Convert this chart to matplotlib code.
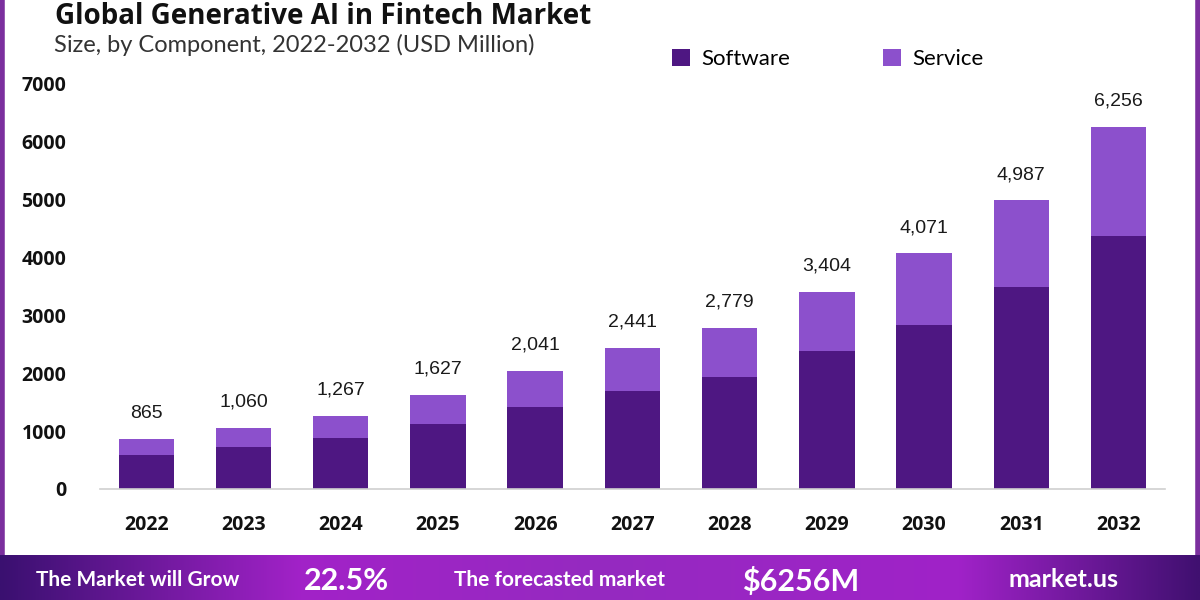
import matplotlib.pyplot as plt
import numpy as np

# Data (USD Million)
years = ["2022", "2023", "2024", "2025", "2026", "2027", "2028", "2029", "2030", "2031", "2032"]
totals = [865, 1060, 1267, 1627, 2041, 2441, 2779, 3404, 4071, 4987, 6256]
software = [590, 725, 880, 1120, 1415, 1690, 1935, 2385, 2840, 3490, 4380]
service = [t - s for t, s in zip(totals, software)]

SOFT_COLOR = "#4e1782"
SERV_COLOR = "#8c50cc"

fig = plt.figure(figsize=(12, 6), dpi=100)
fig.patch.set_facecolor("white")

ax = fig.add_axes([0.083, 0.185, 0.888, 0.675])
x = np.arange(len(years))
ax.bar(x, software, width=0.57, color=SOFT_COLOR, label="Software", zorder=2)
ax.bar(x, service, width=0.57, bottom=software, color=SERV_COLOR, label="Service", zorder=2)

for xi, t in zip(x, totals):
    ax.text(xi, t + 300, f"{t:,}", ha="center", va="bottom",
            fontsize=14, family="Liberation Sans", color="#1a1a1a")

ax.set_xlim(-0.48, len(years) - 0.52)
ax.set_ylim(0, 7000)
ax.set_yticks(range(0, 7001, 1000))
ax.set_xticks(x)
ax.set_xticklabels(years)
for lbl in ax.get_xticklabels():
    lbl.set_fontsize(14)
    lbl.set_fontweight("bold")
    lbl.set_family("Open Sans")
for lbl in ax.get_yticklabels():
    lbl.set_fontsize(14)
    lbl.set_fontweight("bold")
    lbl.set_family("Open Sans")
ax.tick_params(axis="both", length=0, colors="#111111")
ax.tick_params(axis="x", pad=19)
ax.tick_params(axis="y", pad=24)
for side in ["top", "right", "left"]:
    ax.spines[side].set_visible(False)
ax.spines["bottom"].set_color("#d0d0d0")
ax.spines["bottom"].set_linewidth(1.2)

# legend at the top right
handles, labels = ax.get_legend_handles_labels()
fig.legend(handles, labels, loc="center", bbox_to_anchor=(0.69, 0.902), ncol=2,
           frameon=False, handlelength=0.8, handleheight=0.8,
           columnspacing=4.2, handletextpad=0.5, prop={"family": "Lato", "size": 16})

# titles
fig.text(0.046, 0.997, "Global Generative AI in Fintech Market", fontsize=20,
         fontweight="bold", family="Open Sans", color="#111111", va="top")
fig.text(0.045, 0.925, "Size, by Component, 2022-2032 (USD Million)", fontsize=17,
         family="Lato", color="#333333", va="center")

# purple frame at the sides
frame = fig.add_axes([0, 0, 1, 1], zorder=-1)
frame.set_xlim(0, 1)
frame.set_ylim(0, 1)
frame.axis("off")
frame.axvline(0.002, ymin=0.07, ymax=1, color="#7b2f9e", lw=4)
frame.axvline(0.998, ymin=0.07, ymax=1, color="#7b2f9e", lw=4)

# bottom banner with gradient
banner = fig.add_axes([0, 0, 1, 0.075])
grad_stops = np.array([0.0, 0.25, 0.5, 0.8, 1.0])
pos = np.linspace(0, 1, 400)
r = np.interp(pos, grad_stops, [0x3a, 0xa2, 0x95, 0xa0, 0x40])
g = np.interp(pos, grad_stops, [0x10, 0x22, 0x2a, 0x22, 0x10])
b = np.interp(pos, grad_stops, [0x70, 0xc8, 0xc0, 0xc8, 0x70])
img = np.stack([r, g, b], axis=-1)[None, :, :] / 255.0
banner.imshow(img, aspect="auto", extent=[0, 1, 0, 1])
banner.set_xlim(0, 1)
banner.set_ylim(0, 1)
banner.axis("off")
banner.text(0.03, 0.45, "The Market will Grow", color="white", fontsize=15,
            fontweight="bold", family="Lato", va="center")
banner.text(0.253, 0.42, "22.5%", color="white", fontsize=22,
            fontweight="bold", family="Lato", va="center")
banner.text(0.378, 0.45, "The forecasted market", color="white", fontsize=15,
            fontweight="bold", family="Lato", va="center")
banner.text(0.618, 0.42, "$6256M", color="white", fontsize=22,
            fontweight="bold", family="Lato", va="center")
banner.text(0.84, 0.45, "market.us", color="white", fontsize=18,
            fontweight="bold", family="Lato", va="center")

fig.savefig("out.png", dpi=100)
